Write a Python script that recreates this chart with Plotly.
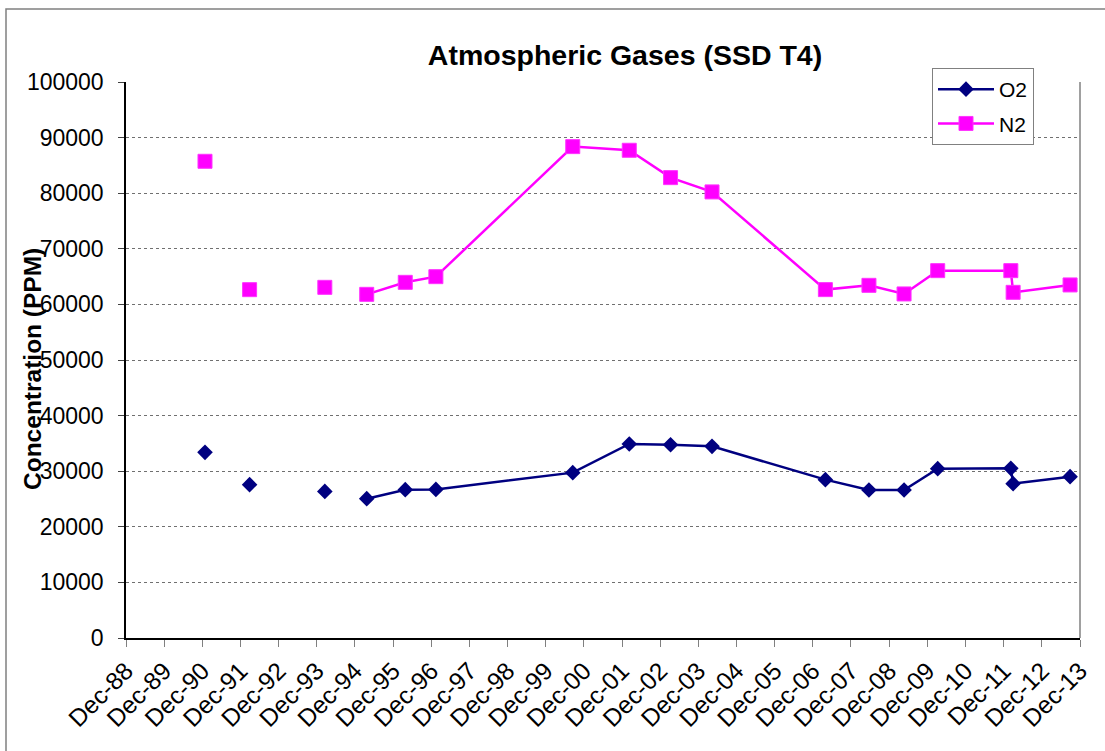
import plotly.graph_objects as go

# ---- data ----
sample_dates = [
    "1990-12-27", "1992-02-27", "1994-02-16", "1995-03-24", "1996-03-27",
    "1997-01-14", "2000-08-16", "2002-02-08", "2003-03-10", "2004-04-10",
    "2007-03-31", "2008-05-21", "2009-04-22", "2010-03-10", "2012-02-08",
    "2012-03-01", "2013-08-28",
]
o2_ppm = [33390, 27580, 26370, 25060, 26680, 26730, 29740, 34900, 34770,
          34470, 28480, 26620, 26620, 30460, 30510, 27760, 29020]
n2_ppm = [85740, 62650, 63070, 61810, 63970, 64990, 88380, 87720, 82800,
          80230, 62660, 63430, 61880, 66070, 66070, 62170, 63500]
# the line is broken (empty cells in the source) after these sample indices
break_after = [0, 1, 2]

tick_years = list(range(1988, 2014))
tick_vals = [f"{y}-12-01" for y in tick_years]
tick_text = [f"Dec-{y % 100:02d}" for y in tick_years]
y_ticks = list(range(0, 100001, 10000))


def with_breaks(xs, ys, breaks):
    bx, by = [], []
    for i, (xv, yv) in enumerate(zip(xs, ys)):
        bx.append(xv)
        by.append(yv)
        if i in breaks:
            bx.append(None)
            by.append(None)
    return bx, by


FONT = "Arial, Liberation Sans, sans-serif"

fig = go.Figure()
ox, oy = with_breaks(sample_dates, o2_ppm, break_after)
nx, ny = with_breaks(sample_dates, n2_ppm, break_after)

fig.add_trace(go.Scatter(
    x=ox, y=oy, name="O2", mode="lines+markers", connectgaps=False,
    line=dict(color="#000080", width=2.5),
    marker=dict(symbol="diamond", size=12, color="#000080",
                line=dict(width=0)),
    legendgroup="o2",
))
fig.add_trace(go.Scatter(
    x=nx, y=ny, name="N2", mode="lines+markers", connectgaps=False,
    line=dict(color="#FF00FF", width=2.5),
    marker=dict(symbol="square", size=14, color="#FF00FF",
                line=dict(width=1, color="#FF33FF")),
    legendgroup="n2",
))

L, R, T, B = 126, 25, 82, 113
W, H = 1105, 751
pw = W - L - R
ph = H - T - B

fig.update_layout(
    width=W, height=H,
    margin=dict(l=L, r=R, t=T, b=B),
    paper_bgcolor="white", plot_bgcolor="white",
    font=dict(family=FONT, size=23, color="black"),
    title=dict(text="<b>Atmospheric Gases (SSD T4)</b>",
               x=625 / W, xanchor="center",
               y=1 - 55 / H, yanchor="middle",
               font=dict(family=FONT, size=28.5, color="black")),
    showlegend=True,
    legend=dict(
        x=(932 - L) / pw, xanchor="left",
        y=1 + (T - 68) / ph, yanchor="top",
        bgcolor="white", bordercolor="#808080", borderwidth=1,
        font=dict(family=FONT, size=21, color="black"),
        traceorder="grouped", tracegroupgap=4,
        itemwidth=56,
    ),
    xaxis=dict(
        type="date",
        range=["1988-12-01", "2013-12-01"],
        tickmode="array", tickvals=tick_vals, ticktext=tick_text,
        tickangle=-45,
        ticks="outside", ticklen=7, tickcolor="#808080", tickwidth=1,
        showline=True, linecolor="black", linewidth=1.5,
        showgrid=False, zeroline=False,
        tickfont=dict(family=FONT, size=24.5, color="black"),
    ),
    yaxis=dict(
        range=[0, 100000],
        tickmode="array", tickvals=y_ticks,
        tickformat="d",
        ticks="outside", ticklen=6, tickcolor="#404040", tickwidth=1,
        ticklabelstandoff=10,
        showline=True, linecolor="black", linewidth=1.5,
        showgrid=True, gridcolor="#707070", gridwidth=1, griddash="dot",
        zeroline=False,
        tickfont=dict(family=FONT, size=23, color="black"),
    ),
)

# y-axis title as an annotation placed like the reference
fig.add_annotation(
    text="<b>Concentration (PPM)</b>", textangle=-90,
    xref="paper", yref="paper",
    x=(32 - L) / pw, y=1 - (369 - T) / ph,
    xanchor="center", yanchor="middle", showarrow=False,
    font=dict(family=FONT, size=24.5, color="black"),
)

# right border of the plot area
fig.add_shape(type="line", xref="paper", yref="paper",
              x0=1, x1=1, y0=0, y1=1,
              line=dict(color="#808080", width=1.5))
# outer chart-area border (left and top visible)
fig.add_shape(type="rect", xref="paper", yref="paper",
              x0=(6 - L) / pw, x1=(W + 20 - L) / pw,
              y0=-(H + 20 - T - ph) / ph, y1=1 + (T - 9) / ph,
              line=dict(color="#808080", width=1.5), layer="below")

fig.write_html("out.html")
